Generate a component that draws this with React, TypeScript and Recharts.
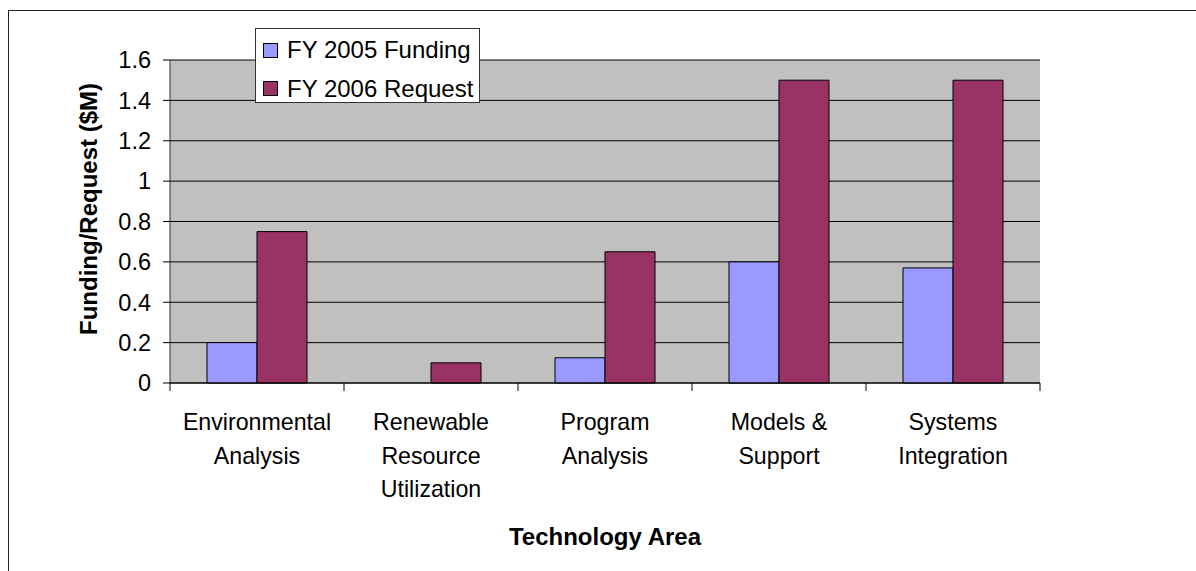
import { Bar, BarChart, CartesianGrid, Legend, XAxis, YAxis } from 'recharts'

const categories = [
  'Environmental Analysis',
  'Renewable Resource Utilization',
  'Program Analysis',
  'Models & Support',
  'Systems Integration',
]
const categoryLines = [
  ['Environmental', 'Analysis'],
  ['Renewable', 'Resource', 'Utilization'],
  ['Program', 'Analysis'],
  ['Models &', 'Support'],
  ['Systems', 'Integration'],
]
const fy2005Funding = [0.2, 0, 0.125, 0.6, 0.57]
const fy2006Request = [0.75, 0.1, 0.65, 1.5, 1.5]
const yTicks = [0, 0.2, 0.4, 0.6, 0.8, 1, 1.2, 1.4, 1.6]
const seriesNames = { fy2005: 'FY 2005 Funding', fy2006: 'FY 2006 Request' }

const data = categories.map((name, i) => ({
  name,
  fy2005: fy2005Funding[i],
  fy2006: fy2006Request[i],
}))

const W = 1196
const H = 571
const M = { top: 60, right: 156, left: 0, bottom: 0 }
const Y_AXIS_W = 170
const X_AXIS_H = 188
const BAND = (W - M.right - Y_AXIS_W) / categories.length
const FONT = '"Liberation Sans", Arial, sans-serif'

function CategoryTick(props: any) {
  const { x, y, payload, index } = props
  const lines = categoryLines[payload?.index ?? index] || [payload?.value]
  const half = BAND / 2
  return (
    <g>
      <line x1={x - half} y1={y} x2={x - half} y2={y + 8} stroke='#000' />
      {index === categories.length - 1 && (
        <line x1={x + half} y1={y} x2={x + half} y2={y + 8} stroke='#000' />
      )}
      <text x={x} y={y + 47} textAnchor='middle' fontSize={23.2} fill='#000' fontFamily={FONT}>
        {lines.map((l: string, i: number) => (
          <tspan key={i} x={x} dy={i === 0 ? 0 : 33.5}>
            {l}
          </tspan>
        ))}
      </text>
    </g>
  )
}

function YTitle(props: any) {
  const vb = props.viewBox || { x: 0, y: M.top }
  const cx = vb.x + 97
  const cy = vb.y + 149
  return (
    <text
      x={cx}
      y={cy}
      transform={`rotate(-90, ${cx}, ${cy})`}
      textAnchor='middle'
      fontSize={24}
      fontWeight='bold'
      fill='#000'
      fontFamily={FONT}
    >
      Funding/Request ($M)
    </text>
  )
}

function XTitle(props: any) {
  const vb = props.viewBox || { x: Y_AXIS_W, y: H - X_AXIS_H, width: W - M.right - Y_AXIS_W }
  return (
    <text
      x={vb.x + vb.width / 2}
      y={vb.y + 162}
      textAnchor='middle'
      fontSize={24}
      fontWeight='bold'
      fill='#000'
      fontFamily={FONT}
    >
      Technology Area
    </text>
  )
}

function LegendBox(props: any) {
  const items = props.payload || []
  return (
    <div
      style={{
        position: 'relative',
        width: 225,
        height: 75,
        boxSizing: 'border-box',
        border: '1px solid #333',
        background: '#fff',
        fontFamily: FONT,
        fontSize: 24,
        color: '#000',
      }}
    >
      {items.map((it: any, i: number) => (
        <div
          key={i}
          style={{
            position: 'absolute',
            left: 7,
            top: 7 + i * 38.5,
            height: 28,
            display: 'flex',
            alignItems: 'center',
            whiteSpace: 'nowrap',
          }}
        >
          <span
            style={{
              display: 'inline-block',
              width: 15,
              height: 15,
              boxSizing: 'border-box',
              border: '1px solid #000',
              background: it.color,
              marginRight: 9,
            }}
          />
          <span>{seriesNames[it.dataKey as keyof typeof seriesNames] ?? it.value}</span>
        </div>
      ))}
    </div>
  )
}

export default function App() {
  return (
    <div style={{ position: 'absolute', left: 0, top: 0, width: W, height: H, background: '#fff' }}>
      <div
        style={{
          position: 'absolute',
          left: 8,
          top: 10,
          width: W - 8,
          height: H - 10,
          boxSizing: 'border-box',
          borderTop: '1px solid #222',
          borderLeft: '1px solid #222',
        }}
      />
      <BarChart
        width={W}
        height={H}
        data={data}
        margin={M}
        barCategoryGap={37}
        barGap={0}
        style={{ position: 'absolute', left: 0, top: 0, fontFamily: FONT }}
      >
        <CartesianGrid
          xAxisId='bottom'
          yAxisId='left'
          vertical={false}
          stroke='#000'
          fill='#C0C0C0'
          fillOpacity={1}
        />
        <XAxis
          xAxisId='bottom'
          dataKey='name'
          height={X_AXIS_H}
          interval={0}
          tickSize={0}
          tickMargin={0}
          tickLine={false}
          axisLine={{ stroke: '#000' }}
          tick={<CategoryTick />}
          label={<XTitle />}
        />
        <XAxis
          xAxisId='top'
          dataKey='name'
          orientation='top'
          height={0}
          tick={false}
          tickLine={false}
          axisLine={{ stroke: '#808080' }}
        />
        <YAxis
          yAxisId='left'
          width={Y_AXIS_W}
          domain={[0, 1.6]}
          ticks={yTicks}
          interval={0}
          tickSize={7}
          tickMargin={12}
          tickLine={{ stroke: '#000' }}
          axisLine={{ stroke: '#333' }}
          tick={{ fontSize: 23.5, fill: '#000', fontFamily: FONT }}
          label={<YTitle />}
        />
        <YAxis
          yAxisId='right'
          orientation='right'
          width={0}
          domain={[0, 1.6]}
          tick={false}
          tickLine={false}
          axisLine={{ stroke: '#808080' }}
        />
        <Legend
          layout='vertical'
          align='center'
          verticalAlign='middle'
          content={<LegendBox />}
          wrapperStyle={{ left: 255, top: 28, width: 225, height: 75 }}
        />
        <Bar
          xAxisId='bottom'
          yAxisId='left'
          dataKey='fy2005'
          name={seriesNames.fy2005}
          fill='#9999FF'
          stroke='#000'
          strokeWidth={1}
          isAnimationActive={false}
        />
        <Bar
          xAxisId='bottom'
          yAxisId='left'
          dataKey='fy2006'
          name={seriesNames.fy2006}
          fill='#993366'
          stroke='#000'
          strokeWidth={1}
          isAnimationActive={false}
        />
      </BarChart>
    </div>
  )
}
